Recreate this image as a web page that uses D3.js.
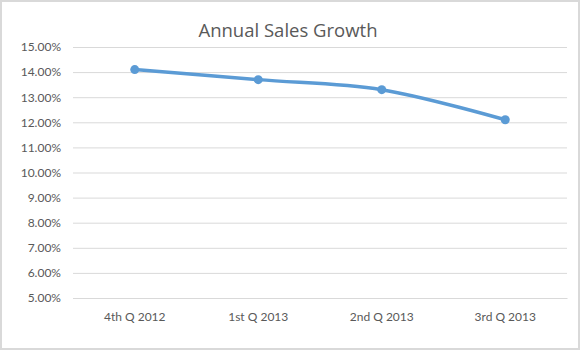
<!DOCTYPE html>
<html><head><meta charset="utf-8">
<script src="https://cdn.jsdelivr.net/npm/d3@7"></script>
<style>html,body{margin:0;padding:0;background:#fff;}</style>
</head><body>
<svg id="c" width="580" height="350"></svg>
<script>
const categories = ["4th Q 2012", "1st Q 2013", "2nd Q 2013", "3rd Q 2013"];
const growth = [0.141, 0.137, 0.133, 0.121];
const yTicks = [0.05,0.06,0.07,0.08,0.09,0.10,0.11,0.12,0.13,0.14,0.15];
const title = "Annual Sales Growth";

(function(){
const svg = d3.select("#c");
const font = "Lato, 'Open Sans', sans-serif";
svg.append("rect").attr("x",1).attr("y",1).attr("width",578).attr("height",348)
  .attr("fill","#fff").attr("stroke","#d9d9d9").attr("stroke-width",2);

const pl = 73, pr = 567, pt = 47, pb = 298;
const x = d3.scaleBand().domain(categories).range([pl, pr]);
const y = d3.scaleLinear().domain([0.05, 0.15]).range([pb, pt]);

svg.append("text").attr("x",288).attr("y",37).attr("text-anchor","middle")
  .attr("font-family","'Open Sans', sans-serif").attr("font-size",18.5).attr("font-weight",400)
  .attr("fill","#595959").text(title);

const yAxis = d3.axisLeft(y).tickValues(yTicks).tickFormat(d3.format(".2%"))
  .tickSize(-(pr-pl)).tickPadding(12);
const gy = svg.append("g").attr("transform",`translate(${pl},0)`).call(yAxis);
gy.select(".domain").remove();
gy.selectAll(".tick line").attr("stroke","#d9d9d9").attr("stroke-width",1);
gy.selectAll(".tick text").attr("font-family",font).attr("font-size",12).attr("fill","#595959");

const xAxis = d3.axisBottom(x).tickSize(0).tickPadding(14);
const gx = svg.append("g").attr("transform",`translate(0,${pb})`).call(xAxis);
gx.select(".domain").attr("stroke","#d9d9d9");
gx.selectAll(".tick text").attr("font-family",font).attr("font-size",12).attr("fill","#595959");

const pts = categories.map((c,i)=>[x(c)+x.bandwidth()/2, y(growth[i])]);
svg.append("path").attr("d", d3.line().curve(d3.curveCatmullRom.alpha(0.5))(pts))
  .attr("fill","none").attr("stroke","#5B9BD5").attr("stroke-width",3.5)
  .attr("stroke-linecap","round");
svg.selectAll("circle.m").data(pts).join("circle").attr("class","m")
  .attr("cx",d=>d[0]).attr("cy",d=>d[1]).attr("r",4.5).attr("fill","#5B9BD5");
})();
</script>
</body></html>
